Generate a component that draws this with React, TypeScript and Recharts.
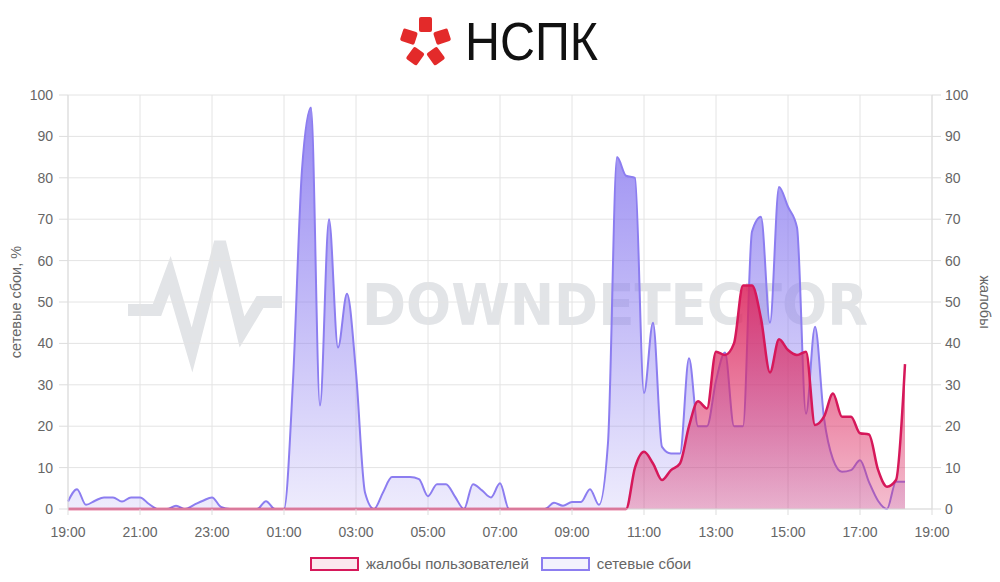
import {
  ComposedChart,
  Area,
  XAxis,
  YAxis,
  CartesianGrid,
} from "recharts";

// 15-minute slots starting at 19:00, last slot 18:15
const networkFailures = [
  1.8, 4.8, 1.0, 2.0, 2.8, 2.8, 1.8, 2.8, 2.8, 1.2,
  0, 0, 0.8, 0, 1.0, 2.0, 2.8, 0.5, 0, 0,
  0, 0, 1.9, 0, 0, 31, 82, 97, 25, 70,
  39, 52, 33, 4, 0, 4, 7.7, 7.7, 7.7, 7.2,
  3.1, 6, 6, 3, 0, 6, 4.5, 2.8, 6.2, 0,
  0, 0, 0, 0, 1.5, 0.8, 1.7, 1.7, 4.8, 1,
  16, 85, 80.5, 80, 28, 45, 15, 13.4, 13.4, 36.4,
  20, 20, 31, 37.8, 20, 20, 67, 70.6, 45, 77.8,
  73, 68, 23, 44, 22, 12, 9, 9.4, 11.8, 6.5,
  2, 0, 6.6, 6.6,
];

const complaints = [
  0, 0, 0, 0, 0, 0, 0, 0, 0, 0,
  0, 0, 0, 0, 0, 0, 0, 0, 0, 0,
  0, 0, 0, 0, 0, 0, 0, 0, 0, 0,
  0, 0, 0, 0, 0, 0, 0, 0, 0, 0,
  0, 0, 0, 0, 0, 0, 0, 0, 0, 0,
  0, 0, 0, 0, 0, 0, 0, 0, 0, 0,
  0, 0, 0, 10, 13.8, 11, 7, 9.4, 11, 20,
  26, 24.3, 38, 37.2, 40, 54, 54, 46, 33, 41,
  38.4, 37.2, 38, 20.3, 22.3, 27.9, 22.3, 22.3, 18.3, 18,
  9.5, 5.4, 7, 35,
];

const xTickLabels = [
  "19:00", "21:00", "23:00", "01:00", "03:00", "05:00", "07:00",
  "09:00", "11:00", "13:00", "15:00", "17:00", "19:00",
];

const yTicks = [0, 10, 20, 30, 40, 50, 60, 70, 80, 90, 100];

const xTicks = xTickLabels.map((_, i) => i * 2);

const data = networkFailures.map((v, i) => ({
  t: i / 4,
  net: v,
  complaints: complaints[i],
}));

const FONT = "'Liberation Sans', Arial, sans-serif";
const PURPLE = "#8c7df0";
const RED = "#d6185a";

const Header = () => (
  <svg width={1000} height={85} style={{ position: "absolute", left: 0, top: 0 }}>
    <g fill="#e32a2a">
      {[0, 72, 144, 216, 288].map((a) => (
        <rect
          key={a}
          x={419}
          y={17}
          width={13}
          height={15}
          rx={2}
          transform={`rotate(${a} 425.5 42)`}
        />
      ))}
    </g>
    <text
      x={465}
      y={60}
      fontSize={53}
      fontFamily={FONT}
      fill="#111"
      textLength={133}
      lengthAdjust="spacingAndGlyphs"
    >
      НСПК
    </text>
  </svg>
);

const Watermark = () => (
  <svg width={1000} height={582} style={{ position: "absolute", left: 0, top: 0 }}>
    <polyline
      points="128,310 157,310 170,275 192,350 220,242 242,332 260,302 282,302"
      fill="none"
      stroke="#e2e4e7"
      strokeWidth={12}
    />
    <text
      x={362}
      y={325}
      fontSize={57}
      fontWeight={700}
      fontFamily="'DejaVu Sans', sans-serif"
      fill="#e2e4e7"
      textLength={506}
      lengthAdjust="spacingAndGlyphs"
    >
      DOWNDETECTOR
    </text>
  </svg>
);

const LegendBox = ({ color, label }: { color: string; label: string }) => (
  <div style={{ display: "flex", alignItems: "center", marginRight: 12 }}>
    <div
      style={{
        width: 45,
        height: 10,
        border: `2.5px solid ${color}`,
        background: color + "1a",
        marginRight: 7,
      }}
    />
    <span style={{ fontSize: 15, color: "#666" }}>{label}</span>
  </div>
);

const App = () => (
  <div style={{ position: "relative", width: 1000, height: 582, fontFamily: FONT, background: "#fff" }}>
    <style>{`body{margin:0}`}</style>
    <Watermark />
    <Header />
    <div style={{ position: "absolute", left: 0, top: 0 }}>
      <ComposedChart
        width={1000}
        height={582}
        data={data}
        margin={{ top: 95, right: 0, bottom: 0, left: 0 }}
      >
        <defs>
          <linearGradient id="gradNet" x1="0" y1="0" x2="0" y2="1">
            <stop offset="0%" stopColor={PURPLE} stopOpacity={0.9} />
            <stop offset="100%" stopColor={PURPLE} stopOpacity={0.15} />
          </linearGradient>
          <linearGradient id="gradComp" x1="0" y1="0" x2="0" y2="1">
            <stop offset="0%" stopColor="#dc2860" stopOpacity={0.88} />
            <stop offset="100%" stopColor="#dc2860" stopOpacity={0.3} />
          </linearGradient>
        </defs>
        <CartesianGrid stroke="#e4e4e4" yAxisId="left" />
        <XAxis
          dataKey="t"
          type="number"
          domain={[0, 24]}
          ticks={xTicks}
          tickFormatter={(v: number) => xTickLabels[Math.round(v / 2)]}
          height={73}
          tickSize={6}
          tickMargin={12}
          tick={{ fill: "#666", fontSize: 14 }}
          tickLine={{ stroke: "#ddd" }}
          axisLine={{ stroke: "#ddd" }}
          interval={0}
        />
        <YAxis
          yAxisId="left"
          domain={[0, 100]}
          ticks={yTicks}
          width={68}
          tickSize={9}
          tickMargin={6}
          tick={{ fill: "#666", fontSize: 14 }}
          tickLine={{ stroke: "#ddd" }}
          axisLine={{ stroke: "#ddd" }}
          interval={0}
          label={{
            value: "сетевые сбои, %",
            angle: -90,
            position: "insideLeft",
            offset: 16,
            style: { textAnchor: "middle", fill: "#666", fontSize: 14.5 },
          }}
        />
        <YAxis
          yAxisId="right"
          orientation="right"
          domain={[0, 100]}
          ticks={yTicks}
          width={68}
          tickSize={9}
          tickMargin={4}
          tick={{ fill: "#666", fontSize: 14 }}
          tickLine={{ stroke: "#ddd" }}
          axisLine={{ stroke: "#ddd" }}
          interval={0}
          label={{
            value: "жалобы",
            angle: 90,
            position: "insideRight",
            offset: 15,
            style: { textAnchor: "middle", fill: "#666", fontSize: 14.5 },
          }}
        />
        <Area
          yAxisId="left"
          type="monotone"
          dataKey="net"
          stroke={PURPLE}
          strokeWidth={2}
          fill="url(#gradNet)"
          fillOpacity={1}
          dot={false}
          activeDot={false}
          isAnimationActive={false}
        />
        <Area
          yAxisId="right"
          type="monotone"
          dataKey="complaints"
          stroke={RED}
          strokeWidth={2.5}
          fill="url(#gradComp)"
          fillOpacity={1}
          dot={false}
          activeDot={false}
          isAnimationActive={false}
        />
      </ComposedChart>
    </div>
    <div style={{ position: "absolute", left: 310, top: 555, display: "flex" }}>
      <LegendBox color={RED} label="жалобы пользователей" />
      <LegendBox color={PURPLE} label="сетевые сбои" />
    </div>
  </div>
);

export default App;
